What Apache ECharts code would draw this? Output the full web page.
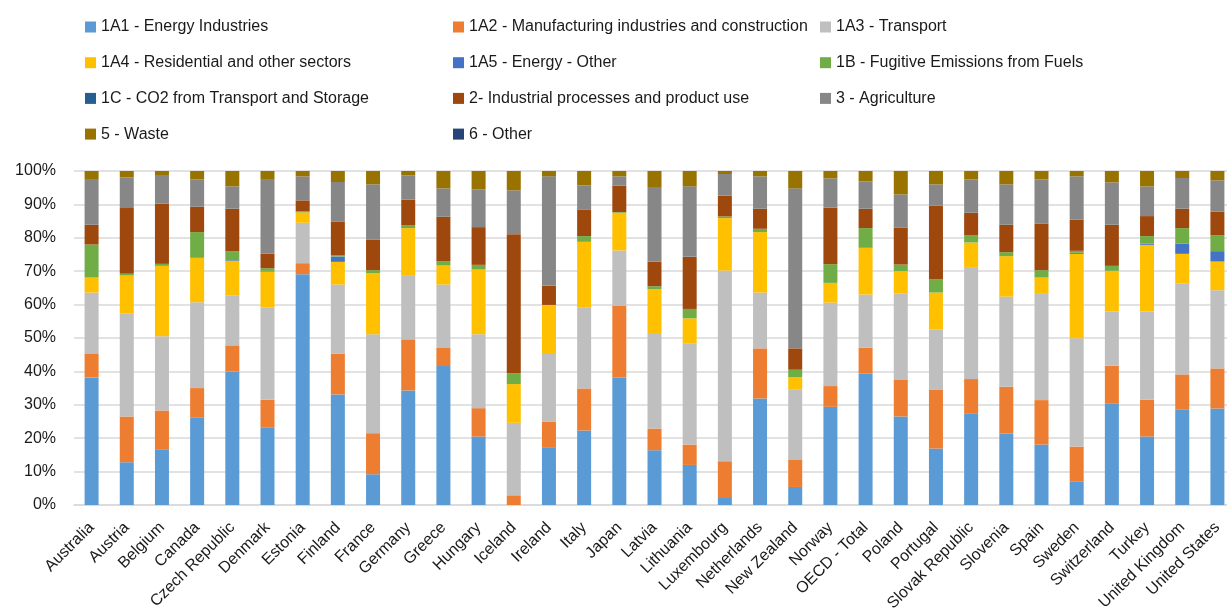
<!DOCTYPE html>
<html>
<head>
<meta charset="utf-8">
<script src="https://cdn.jsdelivr.net/npm/echarts@6/dist/echarts.min.js"></script>
<style>
  html, body { margin: 0; padding: 0; background: #fff; }
  #chart { width: 1227px; height: 610px; }
</style>
</head>
<body>
<div id="chart"></div>
<script>
// Countries (categories on the x axis)
const countries = ["Australia","Austria","Belgium","Canada","Czech Republic","Denmark","Estonia","Finland","France","Germany","Greece","Hungary","Iceland","Ireland","Italy","Japan","Latvia","Lithuania","Luxembourg","Netherlands","New Zealand","Norway","OECD - Total","Poland","Portugal","Slovak Republic","Slovenia","Spain","Sweden","Switzerland","Turkey","United Kingdom","United States"];

// Share of total emissions by source sector (%), one value per country
const energyIndustries = [38.2,12.8,16.7,26.3,40.0,23.3,69.1,33.1,9.2,34.3,41.6,20.5,0,17.1,22.3,38.2,16.4,12.0,2.1,31.9,5.4,29.4,39.3,26.5,16.9,27.3,21.4,18.1,7.1,30.3,20.5,28.7,28.9];
const manufacturing    = [7.2,13.7,11.6,8.7,7.8,8.2,3.3,12.2,12.3,15.3,5.4,8.5,2.9,7.9,12.6,21.4,6.5,6.1,11.0,15.0,8.1,6.2,7.8,11.1,17.7,10.4,14.0,13.3,10.4,11.4,11.0,10.4,12.0];
const transport        = [18.2,30.9,22.2,25.7,15.0,27.7,12.1,20.7,29.6,19.0,19.0,22.1,21.7,20.2,24.3,16.6,28.6,30.3,57.1,16.7,21.0,25.0,15.9,25.7,17.9,33.3,27.0,31.8,32.4,16.2,26.4,27.3,23.4];
const residential      = [4.5,11.3,21.1,13.3,10.3,10.7,3.1,6.8,18.3,14.3,5.7,19.4,11.6,14.7,19.6,11.3,13.1,7.5,15.7,18.1,3.8,5.9,14.0,6.7,11.1,7.6,12.1,4.9,25.3,12.2,20.0,8.8,8.6];
const energyOther      = [0,0,0,0,0.2,0.2,0,1.6,0,0,0,0,0,0,0,0,0,0,0,0,0,0,0,0,0,0,0,0,0.3,0,0.4,3.1,3.1];
const fugitive         = [9.9,0.5,0.6,7.7,2.7,0.8,0.3,0.3,0.9,0.9,1.3,1.4,3.3,0,1.7,0.2,0.9,2.8,0.5,1.0,2.2,5.6,5.9,2.0,4.0,2.1,1.2,2.2,0.6,1.5,2.2,4.6,4.8];
const co2Transport     = [0,0,0,0,0,0,0,0,0,0,0,0,0,0,0,0,0,0,0,0,0,0,0,0,0,0,0,0,0,0,0,0,0];
const industrial       = [5.9,19.7,18.0,7.6,12.7,4.4,3.3,10.2,9.2,7.6,13.3,11.3,41.6,5.8,8.0,7.9,7.4,15.6,6.2,6.0,6.4,16.9,5.8,11.1,22.0,6.8,8.2,14.0,9.3,12.3,6.0,5.8,7.0];
const agriculture      = [13.7,9.2,8.6,8.2,6.7,22.3,7.2,11.8,16.5,7.3,8.5,11.3,13.1,32.7,7.2,2.8,22.3,21.1,6.5,9.7,47.9,8.8,8.2,9.9,6.4,10.0,12.1,13.2,13.0,12.7,8.9,9.2,9.4];
const waste            = [2.4,1.9,1.2,2.5,4.6,2.4,1.6,3.3,4.0,1.3,5.2,5.5,5.8,1.6,4.3,1.6,4.8,4.6,0.9,1.6,5.2,2.2,3.1,7.0,4.0,2.5,4.0,2.5,1.6,3.4,4.6,2.1,2.8];
const otherSources     = [0,0,0,0,0,0,0,0,0,0,0,0,0,0,0,0,0,0,0,0,0,0,0,0,0,0,0,0,0,0,0,0,0];

// Y axis tick values
const yTicks = [0,10,20,30,40,50,60,70,80,90,100];

// Sectors stacked bottom to top
const sectors = [
  { name: "1A1 - Energy Industries", data: energyIndustries, color: "#5B9BD5" },
  { name: "1A2 - Manufacturing industries and construction", data: manufacturing, color: "#ED7D31" },
  { name: "1A3 - Transport", data: transport, color: "#BFBFBF" },
  { name: "1A4 - Residential and other sectors", data: residential, color: "#FFC000" },
  { name: "1A5 - Energy - Other", data: energyOther, color: "#4472C4" },
  { name: "1B - Fugitive Emissions from Fuels", data: fugitive, color: "#70AD47" },
  { name: "1C - CO2 from Transport and Storage", data: co2Transport, color: "#255E91" },
  { name: "2- Industrial processes and product use", data: industrial, color: "#9E480E" },
  { name: "3 - Agriculture", data: agriculture, color: "#878787" },
  { name: "5 - Waste", data: waste, color: "#997300" },
  { name: "6 - Other", data: otherSources, color: "#264478" }
];

const textFont = "'Liberation Sans', Arial, sans-serif";

// One vertical legend per column so the entries line up in a 3-column grid
function legendColumn(left, names) {
  return {
    orient: "vertical",
    left: left,
    top: 19,
    padding: 0,
    itemWidth: 11,
    itemHeight: 11,
    itemGap: 19.7,
    icon: "rect",
    selectedMode: false,
    data: names,
    textStyle: { fontFamily: textFont, fontSize: 16, color: "#1a1a1a" }
  };
}

const chart = echarts.init(document.getElementById("chart"), null, { renderer: "canvas" });
chart.setOption({
  animation: false,
  backgroundColor: "#ffffff",
  legend: [
    legendColumn(85, [sectors[0].name, sectors[3].name, sectors[6].name, sectors[9].name]),
    legendColumn(453, [sectors[1].name, sectors[4].name, sectors[7].name, sectors[10].name]),
    legendColumn(820, [sectors[2].name, sectors[5].name, sectors[8].name])
  ],
  grid: { left: 74, top: 171, width: 1161, height: 334, containLabel: false, outerBoundsMode: "none" },
  xAxis: {
    type: "category",
    data: countries,
    axisTick: { show: false },
    axisLine: { lineStyle: { color: "#d9d9d9", width: 1.5 } },
    axisLabel: {
      interval: 0,
      rotate: 45,
      margin: 20,
      fontFamily: textFont,
      fontSize: 16,
      color: "#1a1a1a"
    }
  },
  yAxis: {
    type: "value",
    min: yTicks[0],
    max: yTicks[yTicks.length - 1],
    interval: yTicks[1] - yTicks[0],
    axisLine: { show: false },
    axisTick: { show: false },
    splitLine: { lineStyle: { color: "#d9d9d9", width: 1.5 } },
    axisLabel: {
      formatter: "{value}%",
      margin: 18,
      fontFamily: textFont,
      fontSize: 16,
      color: "#1a1a1a"
    }
  },
  series: sectors.map(s => ({
    name: s.name,
    type: "bar",
    stack: "total",
    barWidth: 14,
    data: s.data,
    itemStyle: { color: s.color },
    emphasis: { disabled: true }
  }))
});
</script>
</body>
</html>
